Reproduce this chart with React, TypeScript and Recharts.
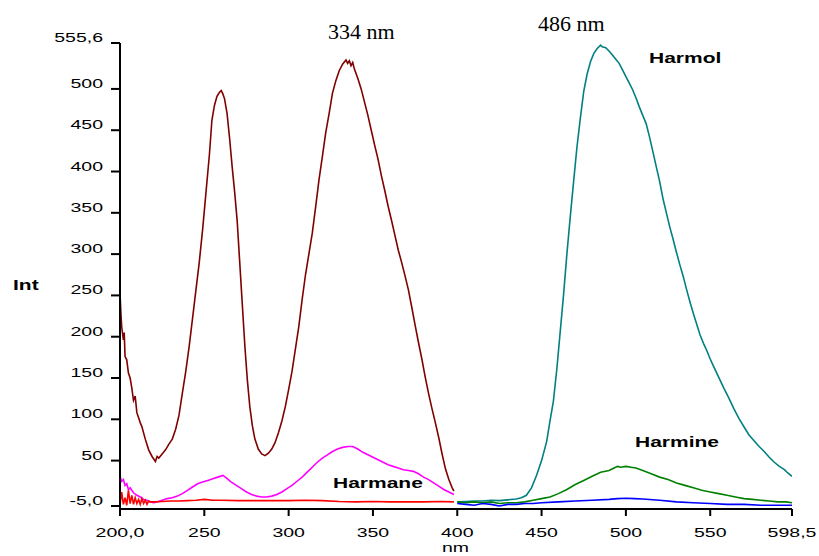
import React from "react";
import { LineChart, Line, XAxis, YAxis } from "recharts";

// excitation spectra, 200-398 nm
const harmolExcitation: [number, number][] = [
  [200, 253], [200.5, 230], [201, 212], [202, 196], [202.5, 205], [203, 176], [204, 172],
  [205, 156], [206, 150], [207, 138], [208, 123], [209, 128], [210, 108], [212, 96],
  [213, 91], [215, 76], [217, 63], [219, 55], [221, 49], [222, 55], [223, 53], [225, 58],
  [227, 63], [229, 70], [231, 76], [233, 88], [235, 105], [237, 132], [239, 158],
  [241, 188], [243, 222], [245, 256], [247, 290], [249, 330], [251, 375], [253, 420],
  [254.5, 462], [256, 480], [257.5, 491], [259, 496], [260, 498], [261, 494], [262, 488],
  [263.5, 470], [265, 440], [266.5, 406], [268, 375], [269.5, 340], [271, 290],
  [272.5, 240], [274, 190], [275.5, 148], [277, 115], [278.5, 92], [280, 76], [282, 64],
  [284, 58], [286, 56], [288, 59], [290, 64], [292, 72], [294, 84], [296, 98], [298, 115],
  [300, 136], [302, 158], [304, 185], [306, 212], [308, 245], [310, 275], [312, 300],
  [314, 325], [316, 357], [318, 390], [320, 418], [322, 447], [324, 470], [326, 495],
  [328, 510], [330, 522], [332, 530], [334, 535], [335, 531], [336, 534], [337, 528],
  [338, 532], [339, 524], [341, 513], [343, 500], [345, 484], [347, 468], [349, 450],
  [351, 432], [353, 415], [355, 395], [357, 377], [359, 358], [361, 341], [363, 323],
  [365, 305], [367, 290], [369, 274], [371, 257], [373, 236], [375, 214], [377, 193],
  [379, 173], [381, 151], [383, 131], [385, 113], [387, 96], [389, 78], [391, 58],
  [393, 40], [395, 27], [397, 17], [398, 13],
];

const harmaneExcitation: [number, number][] = [
  [200, 31], [201, 25], [202, 27], [203, 20], [204, 22], [205, 15], [206, 17], [208, 11],
  [210, 8], [212, 6], [214, 3], [216, 2], [218, 0], [220, -1], [222, 0], [225, 2],
  [228, 4], [231, 5], [234, 7], [237, 10], [240, 14], [243, 18], [246, 22], [249, 24],
  [252, 26], [255, 28], [258, 30], [261, 32], [263, 29], [266, 24], [269, 20], [272, 16],
  [275, 12], [278, 9], [281, 7], [284, 6], [287, 6], [290, 7], [293, 9], [296, 12],
  [299, 16], [302, 20], [305, 25], [308, 30], [311, 36], [314, 42], [317, 48], [320, 53],
  [323, 57], [326, 61], [329, 64], [332, 66], [335, 67], [338, 67], [341, 64], [344, 60],
  [347, 57], [350, 54], [353, 51], [356, 48], [359, 45], [362, 43], [365, 41], [368, 39],
  [371, 38], [374, 37], [377, 34], [380, 30], [383, 27], [386, 23], [389, 19], [392, 15],
  [395, 12], [398, 9],
];

const harmineExcitation: [number, number][] = [
  [200, -4], [201, 12], [202, -3], [203, 5], [204, -4], [205, 14], [206, -2], [207, 8],
  [208, -3], [209, 5], [210, -2], [211, 3], [212, -3], [213, 4], [214, -2], [215, 2],
  [216, -3], [217, 1], [218, 0], [220, 0], [225, 0.5], [230, 1], [235, 1], [240, 1.5],
  [245, 2], [250, 3], [255, 2], [260, 2], [270, 1.5], [280, 1.5], [290, 1.5], [300, 1.5],
  [310, 2], [320, 1.5], [330, 0.5], [340, 0], [350, 0.5], [360, 0], [370, 0], [380, 0],
  [390, 0.5], [398, 0],
];

// emission spectra, 400-598.5 nm
const harmolEmission: [number, number][] = [
  [400, 0], [405, 0.5], [410, 1], [415, 1], [420, 2], [425, 1.5], [430, 2.5], [435, 3.5],
  [438, 5], [441, 8], [444, 17], [447, 32], [450, 50], [453, 73], [455, 98], [457, 122],
  [459, 160], [461, 205], [463, 250], [465, 300], [467, 345], [469, 388], [471, 430],
  [473, 465], [475, 497], [477, 518], [479, 533], [481, 543], [483, 549], [485, 553],
  [486, 551], [488, 550], [490, 546], [492, 541], [494, 536], [496, 531], [498, 523],
  [500, 515], [502, 507], [504, 499], [506, 489], [508, 478], [510, 468], [512, 458],
  [514, 442], [516, 424], [518, 406], [520, 388], [522, 367], [524, 350], [526, 333],
  [528, 318], [530, 302], [532, 287], [534, 273], [536, 257], [538, 242], [540, 228],
  [542, 215], [544, 202], [546, 192], [548, 183], [550, 173], [552, 164], [555, 151],
  [558, 138], [561, 126], [564, 113], [567, 101], [570, 91], [573, 81], [576, 74],
  [579, 67], [582, 61], [585, 54], [588, 48], [591, 43], [594, 39], [596, 35], [598.5, 31],
];

const harmineEmission: [number, number][] = [
  [400, 0], [405, -1], [410, 0], [415, -1], [420, 0], [425, -2], [430, -1], [435, -1],
  [440, 0], [445, 2], [450, 4], [455, 6], [460, 10], [465, 15], [470, 21], [475, 26],
  [480, 31], [485, 36], [490, 38], [493, 41], [495, 43], [497, 42], [500, 43], [503, 42],
  [506, 41], [510, 38], [515, 34], [520, 30], [525, 27], [530, 23], [535, 20], [540, 17],
  [545, 14], [550, 12], [555, 10], [560, 8], [565, 6], [570, 4], [575, 3], [580, 2],
  [585, 1], [590, 0], [595, 0], [598.5, -1],
];

const harmaneEmission: [number, number][] = [
  [400, -2], [405, -3], [410, -4], [415, -2], [420, -3], [425, -5], [430, -3], [435, -3],
  [440, -2], [445, -2], [450, -1], [460, 0], [470, 1], [480, 2], [490, 3], [495, 4],
  [500, 4.5], [505, 4], [510, 3.5], [520, 2], [530, 0], [540, -1], [550, -2], [560, -3],
  [570, -3], [580, -4], [590, -4], [598.5, -4],
];

const xTicks = [200, 250, 300, 350, 400, 450, 500, 550, 598.5];
const yTicks = [-5, 50, 100, 150, 200, 250, 300, 350, 400, 450, 500, 555.6];

const toRows = (pts: [number, number][]) => pts.map(([nm, v]) => ({ nm, v }));

// first and last ticks carry one decimal, with a comma
const fmt = (v: number, ticks: number[]) => {
  const edge = v === ticks[0] || v === ticks[ticks.length - 1];
  return (edge ? v.toFixed(1) : String(v)).replace(".", ",");
};

const SANS = "'Liberation Sans', Arial, sans-serif";

const YTick = (props: any) => {
  const { x, y, payload } = props;
  return (
    <g transform={`translate(${x},${y})`}>
      <text x={0} y={0} dy={-1} textAnchor="end" fontFamily={SANS} fontSize={13} fill="#000" transform="scale(1.5,1)">
        {fmt(payload.value, yTicks)}
      </text>
    </g>
  );
};

const XTick = (props: any) => {
  const { x, y, payload } = props;
  return (
    <g transform={`translate(${x},${y})`}>
      <text x={0} y={0} dy={19} textAnchor="middle" fontFamily={SANS} fontSize={13} fill="#000" transform="scale(1.5,1)">
        {fmt(payload.value, xTicks)}
      </text>
    </g>
  );
};

const series = [
  { name: "harmolEx", pts: harmolExcitation, color: "#800000" },
  { name: "harmaneEx", pts: harmaneExcitation, color: "#FF00FF" },
  { name: "harmineEx", pts: harmineExcitation, color: "#FF0000" },
  { name: "harmolEm", pts: harmolEmission, color: "#008080" },
  { name: "harmineEm", pts: harmineEmission, color: "#008000" },
  { name: "harmaneEm", pts: harmaneEmission, color: "#0000FF" },
];

const label = (x: number, y: number, text: string, bold = true) => (
  <text
    x={0}
    y={0}
    transform={`translate(${x},${y}) scale(1.4,1)`}
    fontFamily={SANS}
    fontSize={15}
    fontWeight={bold ? "bold" : "normal"}
    fill="#000"
  >
    {text}
  </text>
);

export default function App() {
  return (
    <div style={{ position: "absolute", left: 0, top: 0, width: 819, height: 556, background: "#fff" }}>
      <LineChart width={819} height={556} margin={{ top: 43, right: 27, bottom: 17, left: 60 }}>
        <XAxis
          type="number"
          dataKey="nm"
          domain={[200, 598.5]}
          ticks={xTicks}
          allowDataOverflow
          tick={<XTick />}
          tickSize={7}
          tickMargin={2}
          height={30}
          stroke="#000"
          strokeWidth={2}
          axisLine={{ stroke: "#000", strokeWidth: 2 }}
        />
        <YAxis
          type="number"
          dataKey="v"
          domain={[-8.6, 555.6]}
          ticks={yTicks}
          allowDataOverflow
          tick={<YTick />}
          tickSize={9}
          tickMargin={8}
          width={60}
          stroke="#000"
          strokeWidth={2}
          axisLine={{ stroke: "#000", strokeWidth: 2 }}
        />
        {series.map((s) => (
          <Line
            key={s.name}
            data={toRows(s.pts)}
            dataKey="v"
            type="linear"
            stroke={s.color}
            strokeWidth={1.6}
            dot={false}
            activeDot={false}
            isAnimationActive={false}
          />
        ))}
      </LineChart>
      <svg width={819} height={556} style={{ position: "absolute", left: 0, top: 0, pointerEvents: "none" }}>
        <text x={328} y={39} fontFamily="'Liberation Serif', 'Times New Roman', serif" fontSize={22} fill="#000">
          334 nm
        </text>
        <text x={538} y={31} fontFamily="'Liberation Serif', 'Times New Roman', serif" fontSize={22} fill="#000">
          486 nm
        </text>
        {label(649, 63, "Harmol")}
        {label(635, 447, "Harmine")}
        {label(333, 488, "Harmane")}
        {label(13, 290, "Int")}
        <text x={0} y={0} transform="translate(442,552) scale(1.5,1)" fontFamily={SANS} fontSize={13} fill="#000">
          nm
        </text>
      </svg>
    </div>
  );
}
